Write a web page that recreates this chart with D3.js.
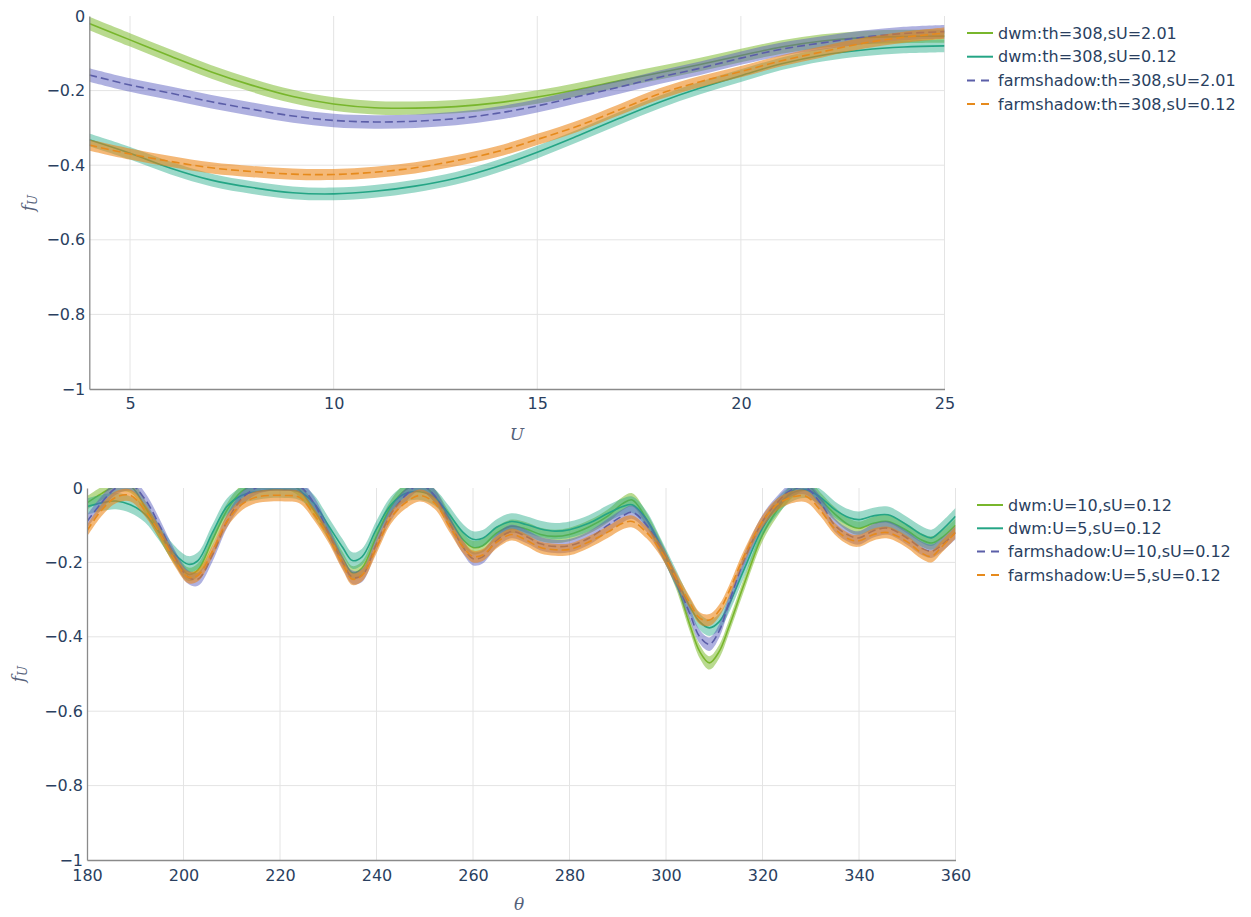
<!DOCTYPE html>
<html>
<head>
<meta charset="utf-8">
<script src="https://cdn.jsdelivr.net/npm/d3@7"></script>
<style>
  html, body { margin: 0; padding: 0; background: #fff; }
  svg { display: block; }
  text { font-family: "DejaVu Sans", Verdana, sans-serif; }
</style>
</head>
<body>
<svg id="chart" width="1251" height="917"></svg>
<script>
// ---------------- DATA ----------------
// Top panel: f_U vs U (theta = 308)
const topU = [4,5,6,7,8,9,10,11,12,13,14,15,16,17,18,19,20,21,22,23,24,25];
const topDwmS201 = [-0.020,-0.064,-0.108,-0.150,-0.186,-0.216,-0.236,-0.246,-0.247,-0.243,-0.233,-0.217,-0.197,-0.174,-0.152,-0.130,-0.106,-0.083,-0.067,-0.058,-0.055,-0.054];
const topDwmS012 = [-0.332,-0.368,-0.408,-0.440,-0.460,-0.474,-0.477,-0.470,-0.456,-0.435,-0.404,-0.365,-0.321,-0.275,-0.231,-0.193,-0.160,-0.128,-0.105,-0.091,-0.083,-0.080];
const topFsS201 = [-0.158,-0.185,-0.207,-0.230,-0.250,-0.268,-0.280,-0.284,-0.282,-0.275,-0.261,-0.241,-0.216,-0.191,-0.164,-0.140,-0.113,-0.089,-0.072,-0.057,-0.047,-0.042];
const topFsS012 = [-0.346,-0.370,-0.390,-0.407,-0.417,-0.424,-0.425,-0.419,-0.407,-0.388,-0.364,-0.331,-0.295,-0.252,-0.209,-0.176,-0.149,-0.120,-0.096,-0.073,-0.057,-0.046];
const topNames = ["dwm:th=308,sU=2.01","dwm:th=308,sU=0.12","farmshadow:th=308,sU=2.01","farmshadow:th=308,sU=0.12"];
const topBand = [0.018, 0.017, 0.018, 0.015];   // half-width of the uncertainty band

// Bottom panel: f_U vs theta
const botTheta = [180,183,186,189,192,195,198,201,203,206,
                  209,212,215,218,221,224,227,230,233,235,
                  237,240,243,246,249,252,255,258,260,262,
                  265,268,271,274,277,280,284,288,291,293,
                  296,299,302,305,307,309,311,313,316,320,
                  323,326,329,332,335,338,340,343,346,350,
                  353,355,357,360];
const botDwmU10 = [-0.040,-0.015,0.005,0.005,-0.050,-0.120,-0.185,-0.232,-0.220,-0.140,
                   -0.060,-0.010,0.010,0.015,0.015,-0.005,-0.060,-0.120,-0.190,-0.228,
                   -0.215,-0.130,-0.050,-0.005,0.010,-0.020,-0.080,-0.140,-0.160,-0.155,
                   -0.120,-0.103,-0.110,-0.125,-0.130,-0.125,-0.105,-0.075,-0.042,-0.032,
                   -0.085,-0.160,-0.250,-0.370,-0.440,-0.470,-0.440,-0.375,-0.265,-0.126,
                   -0.060,-0.010,0.010,-0.030,-0.070,-0.100,-0.108,-0.095,-0.090,-0.115,
                   -0.140,-0.148,-0.135,-0.100];
const botDwmU5 = [-0.050,-0.040,-0.035,-0.045,-0.070,-0.120,-0.175,-0.205,-0.195,-0.120,
                  -0.050,-0.020,-0.010,-0.005,-0.005,-0.010,-0.040,-0.100,-0.160,-0.195,
                  -0.185,-0.110,-0.045,-0.015,-0.010,-0.025,-0.070,-0.120,-0.138,-0.135,
                  -0.105,-0.090,-0.098,-0.110,-0.116,-0.112,-0.095,-0.068,-0.050,-0.045,
                  -0.085,-0.160,-0.240,-0.320,-0.360,-0.376,-0.360,-0.315,-0.224,-0.108,
                  -0.050,-0.015,-0.005,-0.025,-0.058,-0.080,-0.085,-0.075,-0.072,-0.100,
                  -0.125,-0.134,-0.115,-0.076];
const botFsU10 = [-0.090,-0.040,0.000,0.010,-0.030,-0.100,-0.180,-0.240,-0.245,-0.180,
                  -0.090,-0.030,0.000,0.010,0.010,0.005,-0.040,-0.120,-0.200,-0.240,
                  -0.235,-0.150,-0.070,-0.020,0.010,-0.020,-0.090,-0.160,-0.190,-0.185,
                  -0.140,-0.117,-0.130,-0.150,-0.157,-0.155,-0.135,-0.100,-0.075,-0.065,
                  -0.100,-0.165,-0.245,-0.340,-0.400,-0.420,-0.385,-0.310,-0.200,-0.090,
                  -0.040,-0.005,0.000,-0.040,-0.100,-0.128,-0.134,-0.115,-0.108,-0.135,
                  -0.162,-0.170,-0.155,-0.120];
const botFsU5 = [-0.115,-0.060,-0.025,-0.020,-0.060,-0.120,-0.190,-0.240,-0.235,-0.170,
                 -0.090,-0.045,-0.025,-0.020,-0.020,-0.025,-0.070,-0.130,-0.205,-0.245,
                 -0.235,-0.160,-0.080,-0.040,-0.020,-0.040,-0.100,-0.160,-0.184,-0.180,
                 -0.145,-0.125,-0.140,-0.160,-0.166,-0.165,-0.145,-0.118,-0.095,-0.090,
                 -0.120,-0.170,-0.240,-0.310,-0.350,-0.355,-0.330,-0.280,-0.188,-0.090,
                 -0.045,-0.025,-0.022,-0.060,-0.110,-0.138,-0.142,-0.125,-0.120,-0.145,
                 -0.175,-0.184,-0.160,-0.120];
const botNames = ["dwm:U=10,sU=0.12","dwm:U=5,sU=0.12","farmshadow:U=10,sU=0.12","farmshadow:U=5,sU=0.12"];
const botBand = [0.018, 0.022, 0.018, 0.016];

const yTicks = [-1,-0.8,-0.6,-0.4,-0.2,0];
const topXTicks = [5,10,15,20,25];
const botXTicks = [180,200,220,240,260,280,300,320,340,360];

// ---------------- STYLE ----------------
const lineColors = ["#78b62c","#24a585","#5b5ea8","#e68a1c"];
const bandColors = ["rgba(120,185,40,0.52)","rgba(36,170,135,0.45)","rgba(88,92,190,0.48)","rgba(236,132,20,0.58)"];
const dashes = [null, null, "8,4", "8,4"];
const legendDashes = [null, null, "8,6", "8,6"];
const textColor = "#2a3f5f";

const svg = d3.select("#chart");

function panel(cfg) {
  const x = d3.scaleLinear().domain(cfg.xDomain).range([cfg.left, cfg.right]);
  const y = d3.scaleLinear().domain([-1, 0]).range([cfg.bottom, cfg.top]);
  const g = svg.append("g");

  // grid
  g.append("g").selectAll("line").data(cfg.xTicks.filter(d => d !== cfg.xDomain[0]))
    .join("line")
    .attr("x1", d => x(d)).attr("x2", d => x(d))
    .attr("y1", cfg.top).attr("y2", cfg.bottom)
    .attr("stroke", "#e4e4e4").attr("stroke-width", 1);
  g.append("g").selectAll("line").data(yTicks.filter(d => d > -1 && d < 0))
    .join("line")
    .attr("x1", cfg.left).attr("x2", cfg.right)
    .attr("y1", d => y(d)).attr("y2", d => y(d))
    .attr("stroke", "#e4e4e4").attr("stroke-width", 1);

  // clip
  const cid = "clip" + cfg.id;
  svg.append("clipPath").attr("id", cid).append("rect")
    .attr("x", cfg.left).attr("y", cfg.top)
    .attr("width", cfg.right - cfg.left).attr("height", cfg.bottom - cfg.top);
  const plot = g.append("g").attr("clip-path", `url(#${cid})`);

  const curve = d3.curveCatmullRom.alpha(0.5);
  cfg.series.forEach((vals, i) => {
    const pts = cfg.xs.map((xv, k) => ({ x: xv, v: vals[k] }));
    const hw = cfg.band[i];
    const area = d3.area().curve(curve)
      .x(d => x(d.x)).y0(d => y(d.v - hw)).y1(d => y(d.v + hw));
    const line = d3.line().curve(curve).x(d => x(d.x)).y(d => y(d.v));
    plot.append("path").attr("d", area(pts)).attr("fill", bandColors[i]).attr("stroke", "none");
    plot.append("path").attr("d", line(pts)).attr("fill", "none")
      .attr("stroke", lineColors[i]).attr("stroke-width", 1.6)
      .attr("stroke-dasharray", dashes[i]);
  });

  // axes
  const fmt = d => d === 0 ? "0" : d3.format("")(d);
  const ax = g.append("g").attr("transform", `translate(0,${cfg.bottom})`)
    .call(d3.axisBottom(x).tickValues(cfg.xTicks).tickSize(0).tickSizeOuter(0).tickPadding(cfg.xPad));
  const ay = g.append("g").attr("transform", `translate(${cfg.left},0)`)
    .call(d3.axisLeft(y).tickValues(yTicks).tickFormat(fmt).tickSize(0).tickSizeOuter(0).tickPadding(4));
  [ax, ay].forEach(a => {
    a.select(".domain").attr("stroke", "#8a8a8a").attr("stroke-width", 1.3);
    a.selectAll("text").attr("fill", textColor).style("font-size", "16px")
      .style("font-family", "'DejaVu Sans', Verdana, sans-serif");
  });

  // axis titles
  g.append("text").attr("x", cfg.xTitle[0]).attr("y", cfg.xTitle[1])
    .attr("text-anchor", "middle").attr("dominant-baseline", "middle")
    .attr("fill", "#55617a").style("font-family", "'DejaVu Serif', 'Liberation Serif', serif")
    .style("font-style", "italic").style("font-size", "17px").text(cfg.xLabel);
  const yt = g.append("text")
    .attr("transform", `translate(${cfg.yTitle[0]},${cfg.yTitle[1]}) rotate(-90)`)
    .attr("text-anchor", "middle").attr("dominant-baseline", "middle")
    .attr("fill", "#55617a").style("font-family", "'DejaVu Serif', 'Liberation Serif', serif")
    .style("font-style", "italic").style("font-size", "17px");
  yt.append("tspan").text("f");
  yt.append("tspan").attr("dy", "4").style("font-size", "12px").text("U");

  // legend
  const lg = g.append("g");
  cfg.names.forEach((name, i) => {
    const yy = cfg.legY + i * cfg.legStep;
    lg.append("line").attr("x1", cfg.legX).attr("x2", cfg.legX + 26)
      .attr("y1", yy).attr("y2", yy)
      .attr("stroke", lineColors[i]).attr("stroke-width", 2)
      .attr("stroke-dasharray", legendDashes[i]);
    lg.append("text").attr("x", cfg.legX + 31).attr("y", yy)
      .attr("dy", "0.35em").attr("fill", textColor)
      .style("font-size", "16px").text(name);
  });
}

panel({
  id: "top", xDomain: [4, 25], left: 89.3, right: 944.5, top: 16, bottom: 389,
  xs: topU, series: [topDwmS201, topDwmS012, topFsS201, topFsS012], band: topBand,
  xTicks: topXTicks, xPad: 9, xLabel: "U", xTitle: [517, 435], yTitle: [29, 203],
  names: topNames, legX: 967, legY: 33, legStep: 23.7
});

panel({
  id: "bot", xDomain: [180, 360], left: 87, right: 955.5, top: 488, bottom: 860,
  xs: botTheta, series: [botDwmU10, botDwmU5, botFsU10, botFsU5], band: botBand,
  xTicks: botXTicks, xPad: 10, xLabel: "θ", xTitle: [519, 905], yTitle: [19, 674],
  names: botNames, legX: 977, legY: 505, legStep: 23.3
});
</script>
</body>
</html>
